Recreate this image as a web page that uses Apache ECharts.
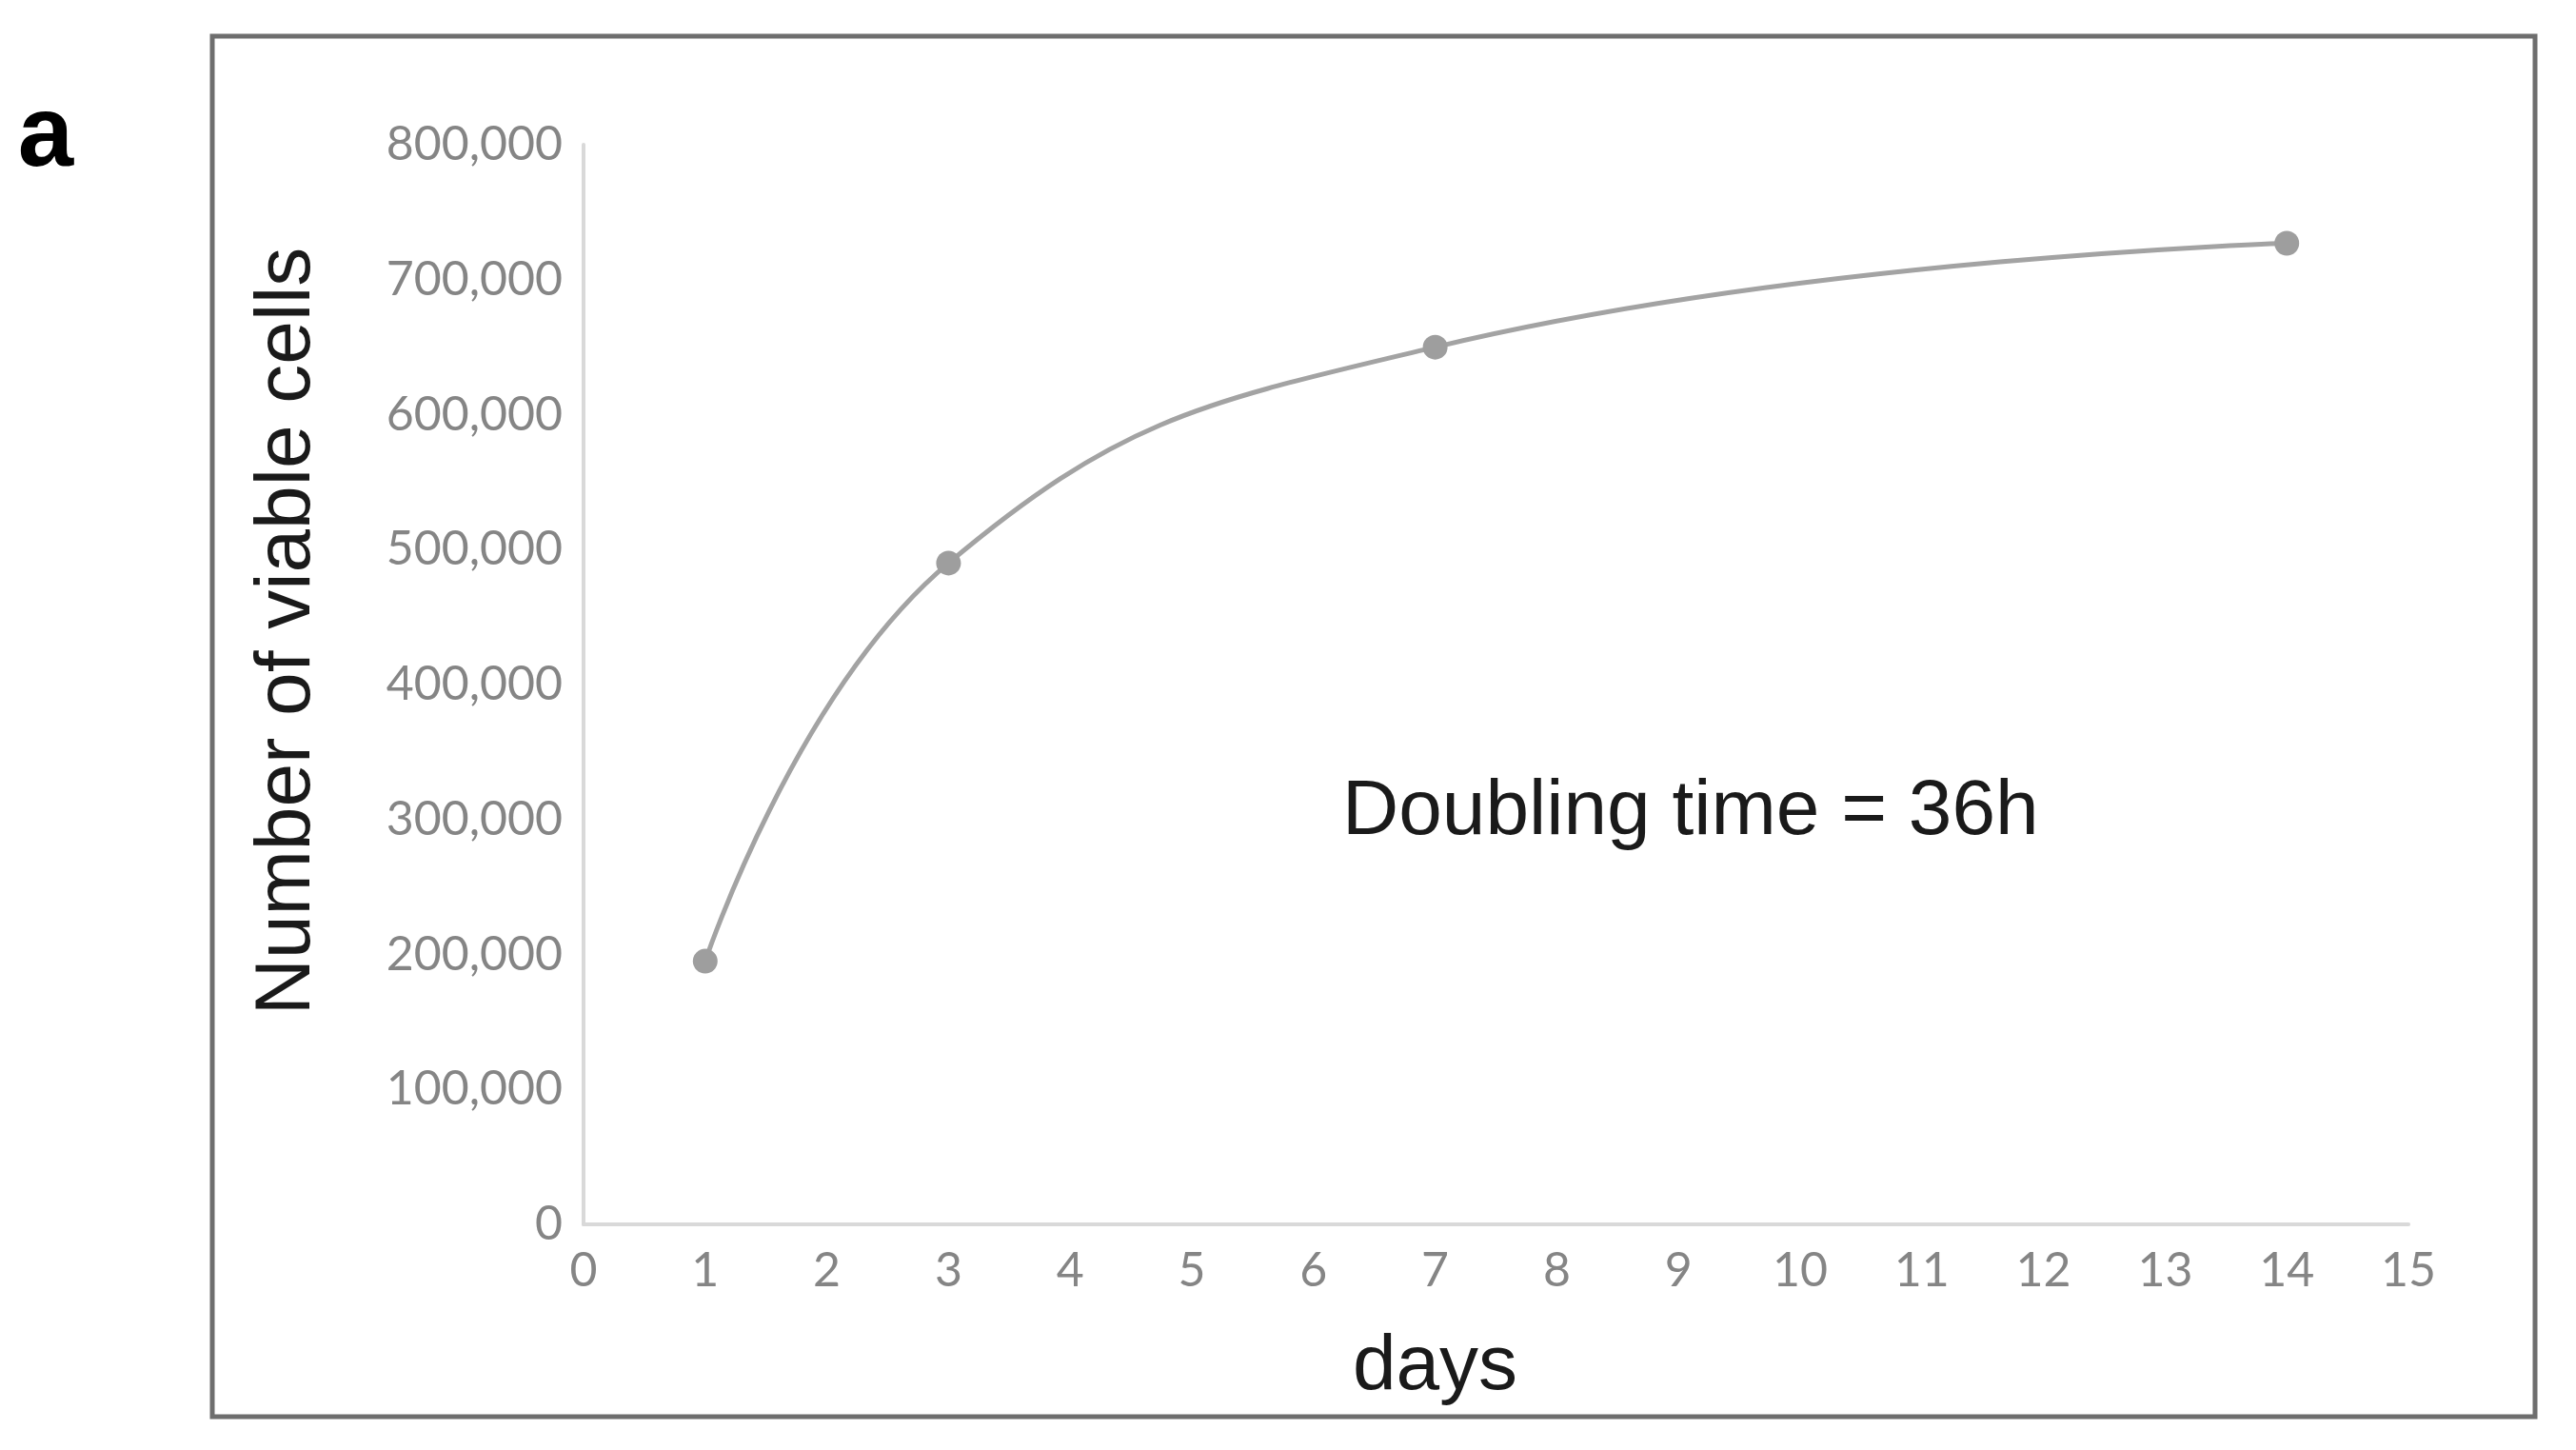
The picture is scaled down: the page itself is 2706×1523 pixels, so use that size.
<!DOCTYPE html>
<html>
<head>
<meta charset="utf-8">
<script src="https://cdn.jsdelivr.net/npm/echarts@6/dist/echarts.min.js"></script>
<style>
  html, body { margin: 0; padding: 0; background: #fff; }
  #main { width: 2706px; height: 1523px; }
</style>
</head>
<body>
<div id="main"></div>
<script>
// growth curve data
var days = [1, 3, 7, 14]
var viableCells = [195000, 490000, 650000, 727000]
var panelLabel = 'a'
var note = 'Doubling time = 36h'

var chart = echarts.init(document.getElementById('main'))

var option = {
  backgroundColor: '#fff',
  animation: false,
  grid: {
    left: 613,
    right: 176,
    top: 152,
    bottom: 237
  },
  xAxis: {
    type: 'value',
    min: 0,
    max: 15,
    interval: 1,
    name: 'days',
    nameLocation: 'middle',
    nameGap: 150,
    nameTextStyle: {
      fontFamily: 'Liberation Sans',
      fontSize: 82,
      color: '#1a1a1a',
      verticalAlign: 'middle',
      // name sits under day 7 rather than the axis centre
      padding: [0, 128, 0, 0]
    },
    axisLine: { lineStyle: { color: '#d9d9d9', width: 4 } },
    axisTick: { show: false },
    splitLine: { show: false },
    axisLabel: {
      margin: 24,
      fontFamily: 'Lato',
      fontSize: 50,
      color: '#858585'
    }
  },
  yAxis: {
    type: 'value',
    min: 0,
    max: 800000,
    interval: 100000,
    axisLine: { show: true, lineStyle: { color: '#d9d9d9', width: 4 } },
    axisTick: { show: false },
    splitLine: { show: false },
    axisLabel: {
      margin: 22,
      fontFamily: 'Lato',
      fontSize: 50,
      color: '#858585',
      formatter: function (v) {
        return v.toString().replace(/\B(?=(\d{3})+(?!\d))/g, ',')
      }
    }
  },
  series: [
    {
      type: 'line',
      data: days.map(function (d, i) { return [d, viableCells[i]] }),
      smooth: 0.45,
      symbol: 'circle',
      symbolSize: 26,
      itemStyle: { color: '#9e9e9e' },
      lineStyle: { color: '#a3a3a3', width: 5 }
    }
  ],
  graphic: [
    {
      type: 'rect',
      shape: { x: 223, y: 38, width: 2440, height: 1450 },
      style: { fill: null, stroke: '#6e6e6e', lineWidth: 5 },
      z: 10
    },
    {
      type: 'text',
      x: 48,
      y: 145,
      style: {
        text: panelLabel,
        fontFamily: 'Liberation Sans',
        fontWeight: 'bold',
        fontSize: 105,
        fill: '#000',
        align: 'center',
        verticalAlign: 'middle'
      }
    },
    {
      type: 'text',
      x: 302,
      y: 663,
      rotation: Math.PI / 2,
      style: {
        text: 'Number of viable cells',
        fontFamily: 'Liberation Sans',
        fontSize: 82,
        fill: '#1a1a1a',
        align: 'center',
        verticalAlign: 'middle'
      }
    },
    {
      type: 'text',
      x: 1410,
      y: 853,
      style: {
        text: note,
        fontFamily: 'Liberation Sans',
        fontSize: 82,
        fill: '#1a1a1a',
        align: 'left',
        verticalAlign: 'middle'
      }
    }
  ]
}

chart.setOption(option)
</script>
</body>
</html>
